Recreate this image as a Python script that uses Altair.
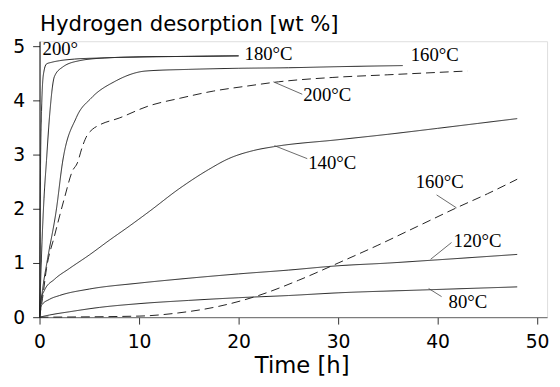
import altair as alt
import pandas as pd

# ---- data ----
s200_t = [0, 0.05, 0.1, 0.2, 0.3, 0.45, 0.7, 1.2, 2, 3.5, 6, 10, 15, 20]
s200_v = [0, 1.5, 2.8, 3.8, 4.3, 4.55, 4.68, 4.71, 4.74, 4.77, 4.79, 4.81, 4.82, 4.83]

s180_t = [0, 0.1, 0.25, 0.45, 0.7, 1.0, 1.5, 2.3, 4, 6.5, 10, 15, 20]
s180_v = [0, 0.6, 1.4, 2.2, 2.9, 3.7, 4.45, 4.62, 4.74, 4.79, 4.81, 4.82, 4.83]

s160_t = [0, 0.3, 0.8, 1.7, 2.3, 3.7, 5.2, 7.6, 10.7, 15, 20, 25, 30, 36.5]
s160_v = [0, 0.5, 1.07, 2.0, 2.85, 3.69, 4.05, 4.36, 4.55, 4.58, 4.6, 4.61, 4.63, 4.65]

s140_t = [0, 0.1, 0.5, 1.5, 3, 5, 7, 9, 11, 14, 17, 19, 21.5, 23.5, 30, 35, 40, 44, 48]
s140_v = [0, 0.3, 0.5, 0.7, 0.9, 1.15, 1.42, 1.68, 1.95, 2.37, 2.73, 2.93, 3.08, 3.15, 3.28, 3.38, 3.49, 3.58, 3.67]

s120_t = [0, 0.2, 1, 2, 5, 10, 15, 20, 25, 30, 35, 40, 48]
s120_v = [0, 0.22, 0.33, 0.4, 0.52, 0.63, 0.72, 0.8, 0.87, 0.95, 1.0, 1.06, 1.16]

s80_t = [0, 1, 3, 6, 10, 15, 20, 25, 30, 38, 48]
s80_v = [0, 0.04, 0.1, 0.18, 0.25, 0.31, 0.36, 0.4, 0.45, 0.5, 0.56]

d200_t = [0, 0.3, 0.7, 1.5, 2.5, 3.3, 3.8, 4.3, 4.75, 5.3, 6, 8, 10.9, 14.2, 17.5, 20.8, 24, 29.4, 35, 43]
d200_v = [0, 0.35, 0.9, 1.5, 2.2, 2.7, 2.85, 3.15, 3.35, 3.47, 3.55, 3.68, 3.9, 4.05, 4.18, 4.27, 4.35, 4.43, 4.48, 4.55]

d160_t = [0, 10, 14, 18, 22, 26, 30, 34, 38, 42, 45, 48]
d160_v = [0, 0.02, 0.08, 0.2, 0.4, 0.68, 1.0, 1.33, 1.68, 2.03, 2.28, 2.55]

series = [
    ("200s", "solid", s200_t, s200_v),
    ("180s", "solid", s180_t, s180_v),
    ("160s", "solid", s160_t, s160_v),
    ("140s", "solid", s140_t, s140_v),
    ("120s", "solid", s120_t, s120_v),
    ("80s", "solid", s80_t, s80_v),
    ("200d", "dashed", d200_t, d200_v),
    ("160d", "dashed", d160_t, d160_v),
]

label_text = ["200°", "180°C", "160°C", "200°C", "140°C", "160°C", "120°C", "80°C"]
label_t = [0.3, 20.6, 37.3, 26.5, 27.0, 37.8, 41.6, 41.1]
label_v = [4.95, 4.86, 4.85, 4.1, 2.84, 2.5, 1.40, 0.27]

lead_t1 = [23.5, 23.6, 39.9, 39.3, 39.1]
lead_v1 = [4.35, 3.17, 2.26, 1.07, 0.53]
lead_t2 = [26.4, 26.9, 41.9, 41.4, 40.4]
lead_v2 = [4.12, 2.93, 2.02, 1.38, 0.38]

rows = []
for name, style, ts, vs in series:
    for i, (t, v) in enumerate(zip(ts, vs)):
        rows.append({"series": name, "style": style, "t": t, "v": v, "i": i})
df = pd.DataFrame(rows)
labels = pd.DataFrame({"text": label_text, "t": label_t, "v": label_v})
leads = pd.DataFrame({"t": lead_t1, "v": lead_v1, "t2": lead_t2, "v2": lead_v2})

xs = alt.Scale(domain=[0, 51], nice=False, zero=False)
ys = alt.Scale(domain=[0, 5.1], nice=False)

x_axis = alt.Axis(values=[0, 10, 20, 30, 40, 50], title="Time [h]", grid=False,
                  labelFont="DejaVu Sans", labelFontSize=19, labelColor="black",
                  labelPadding=9, labelFlush=False, tickSize=7, tickColor="#333",
                  domainColor="#666", titleFont="DejaVu Sans", titleFontSize=23,
                  titleFontWeight="normal", titleColor="black", titleX=266, titleY=56,
                  titleAlign="center", titleBaseline="alphabetic")
y_axis = alt.Axis(values=[0, 1, 2, 3, 4, 5], title="Hydrogen desorption [wt %]", grid=False,
                  labelFont="DejaVu Sans", labelFontSize=19, labelColor="black",
                  labelPadding=8, labelFlush=False, tickSize=7, tickColor="#333",
                  domainColor="black", titleFont="DejaVu Sans", titleFontSize=21.5,
                  titleFontWeight="normal", titleColor="black", titleAngle=0,
                  titleX=0, titleY=-11, titleAlign="left", titleBaseline="alphabetic")

lines = alt.Chart(df).mark_line(interpolate="monotone", strokeWidth=1, color="#222").encode(
    x=alt.X("t:Q", scale=xs, axis=x_axis),
    y=alt.Y("v:Q", scale=ys, axis=y_axis),
    order="i:Q",
    detail="series:N",
    strokeDash=alt.StrokeDash("style:N", scale=alt.Scale(domain=["solid", "dashed"], range=[[1, 0], [9, 5]]), legend=None),
)

leaders = alt.Chart(leads).mark_rule(strokeWidth=0.8, color="#444").encode(
    x=alt.X("t:Q", scale=xs), y=alt.Y("v:Q", scale=ys), x2="t2:Q", y2="v2:Q"
)

texts = alt.Chart(labels).mark_text(font="Liberation Serif", fontSize=19, align="left",
                                    baseline="middle", color="black").encode(
    x=alt.X("t:Q", scale=xs), y=alt.Y("v:Q", scale=ys), text="text:N"
)

chart = alt.layer(lines, leaders, texts).properties(
    width=515, height=280,
    padding={"left": 32, "top": 31, "right": 5, "bottom": 60},
    autosize="none",
).configure_view(stroke="#666", strokeWidth=1).configure(background="white")

chart.save("out.html", embed_options={"renderer": "svg", "actions": False})
